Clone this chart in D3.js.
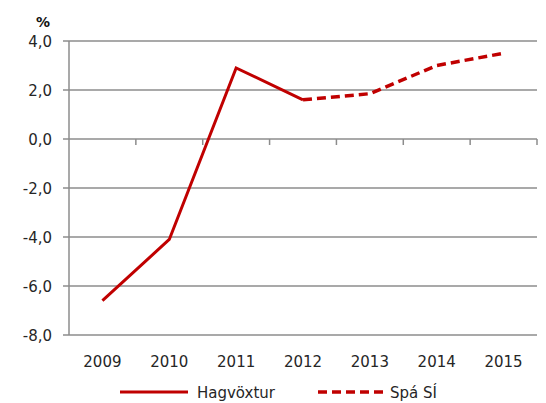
<!DOCTYPE html>
<html><head><meta charset="utf-8">
<script src="https://cdn.jsdelivr.net/npm/d3@7"></script>
<style>body{margin:0;background:#fff}svg{display:block}</style>
</head><body>
<svg id="c" width="546" height="403"></svg>
<script>
const years = ["2009","2010","2011","2012","2013","2014","2015"];
const hagvoxtur = [-6.6, -4.1, 2.9, 1.6, null, null, null];
const spa = [null, null, null, 1.6, 1.85, 3.0, 3.5];
const yTicks = [4, 2, 0, -2, -4, -6, -8];
const seriesNames = ["Hagvöxtur", "Spá SÍ"];

(function () {
const svg = d3.select("#c");
const font = "'DejaVu Sans', sans-serif";
const pL = 69, pR = 537, pT = 41, pB = 335;
const x = d3.scaleBand().domain(years).range([pL, pR]);
const y = d3.scaleLinear().domain([-8, 4]).range([pB, pT]);
const grid = "#8c8c8c";
const txt = "#262626";

// gridlines
svg.append("g").selectAll("line").data(yTicks).join("line")
  .attr("x1", pL - 6).attr("x2", pR).attr("y1", d => y(d)).attr("y2", d => y(d))
  .attr("stroke", grid).attr("stroke-width", 1.5);

// y axis line
svg.append("line").attr("x1", pL).attr("x2", pL).attr("y1", pT).attr("y2", pB)
  .attr("stroke", grid).attr("stroke-width", 1.5);

// y labels
svg.append("g").selectAll("text").data(yTicks).join("text")
  .attr("x", 52).attr("y", d => y(d) + 5.5).attr("text-anchor", "end")
  .attr("font-family", font).attr("font-size", 15).attr("fill", txt)
  .text(d => d3.format(".1f")(d).replace(".", ",").replace("−", "-"));

// x-axis ticks at zero line (category boundaries)
const bounds = years.map(d => x(d) + x.bandwidth());
svg.append("g").selectAll("line").data(bounds).join("line")
  .attr("x1", d => d).attr("x2", d => d).attr("y1", y(0)).attr("y2", y(0) + 6)
  .attr("stroke", grid).attr("stroke-width", 1.5);

// x labels
svg.append("g").selectAll("text").data(years).join("text")
  .attr("x", d => x(d) + x.bandwidth() / 2).attr("y", 367).attr("text-anchor", "middle")
  .attr("font-family", font).attr("font-size", 15).attr("fill", txt).text(d => d);

// % label
svg.append("text").attr("x", 43).attr("y", 27).attr("text-anchor", "middle")
  .attr("font-family", font).attr("font-size", 14).attr("font-weight", "bold").attr("fill", "#111").text("%");

const line = d3.line().defined(d => d != null)
  .x((d, i) => x(years[i]) + x.bandwidth() / 2).y(d => y(d));
const red = "#c00000";
svg.append("path").attr("d", line(hagvoxtur)).attr("fill", "none").attr("stroke", red)
  .attr("stroke-width", 3).attr("stroke-linejoin", "miter");
svg.append("path").attr("d", line(spa)).attr("fill", "none").attr("stroke", red)
  .attr("stroke-width", 3.5).attr("stroke-dasharray", "9,5");

// legend
const lg = svg.append("g");
lg.append("line").attr("x1", 120).attr("x2", 188).attr("y1", 392).attr("y2", 392)
  .attr("stroke", red).attr("stroke-width", 3);
lg.append("text").attr("x", 197).attr("y", 398).attr("font-family", font).attr("font-size", 15)
  .attr("fill", txt).text(seriesNames[0]);
lg.append("line").attr("x1", 318).attr("x2", 387).attr("y1", 392).attr("y2", 392)
  .attr("stroke", red).attr("stroke-width", 3.5).attr("stroke-dasharray", "9,5");
lg.append("text").attr("x", 390).attr("y", 398).attr("font-family", font).attr("font-size", 15)
  .attr("fill", txt).text(seriesNames[1]);
})();
</script>
</body></html>
